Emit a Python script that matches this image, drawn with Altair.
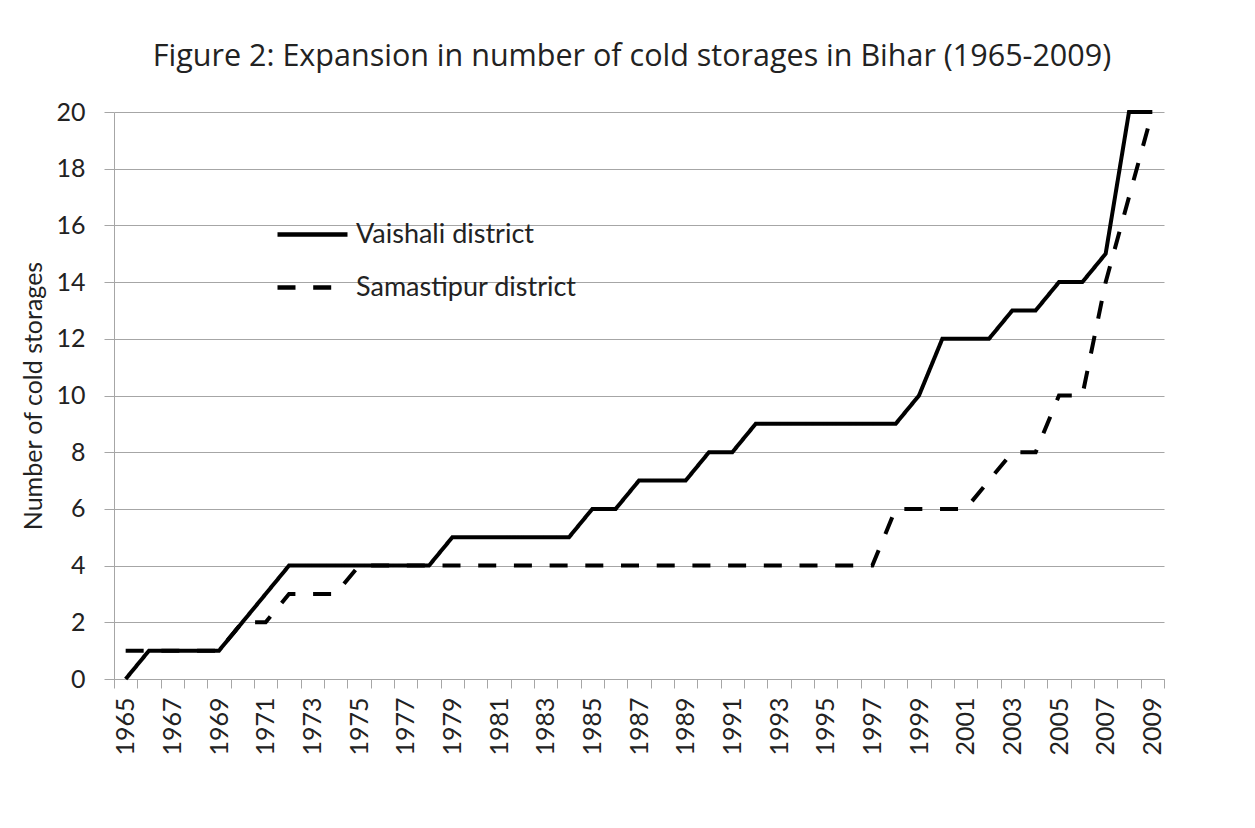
import altair as alt
import pandas as pd

years = list(range(1965, 2010))
vaishali = [0, 1, 1, 1, 1, 2, 3, 4, 4, 4, 4, 4, 4, 4, 5, 5, 5, 5, 5, 5,
            6, 6, 7, 7, 7, 8, 8, 9, 9, 9, 9, 9, 9, 9, 10, 12, 12, 12, 13, 13,
            14, 14, 15, 20, 20]
samastipur = [1, 1, 1, 1, 1, 2, 2, 3, 3, 3, 4, 4, 4, 4, 4, 4, 4, 4, 4, 4,
              4, 4, 4, 4, 4, 4, 4, 4, 4, 4, 4, 4, 4, 6, 6, 6, 6, 7, 8, 8,
              10, 10, 14, 17, 20]
series_names = ["Vaishali district", "Samastipur district"]
y_ticks = [0, 2, 4, 6, 8, 10, 12, 14, 16, 18, 20]

df = pd.DataFrame({
    "year": years + years,
    "value": vaishali + samastipur,
    "series": [series_names[0]] * len(years) + [series_names[1]] * len(years),
})

FONT = "Lato"
TXT = "#222222"
GRID = "#a6a6a6"

chart = alt.Chart(df).mark_line(color="black", strokeWidth=4).encode(
    x=alt.X(
        "year:O",
        bandPosition=0.5,
        scale=alt.Scale(type="band", paddingInner=0, paddingOuter=0),
        axis=alt.Axis(
            title=None,
            labelAngle=270,
            labelExpr="datum.value % 2 == 1 ? datum.label : ''",
            labelOverlap=False,
            tickBand="extent",
            tickSize=9,
            labelPadding=9,
            domainColor=GRID,
            tickColor=GRID,
            labelFont=FONT,
            labelFontSize=25,
            labelColor=TXT,
            grid=False,
        ),
    ),
    y=alt.Y(
        "value:Q",
        scale=alt.Scale(domain=[0, 20], nice=False),
        axis=alt.Axis(
            values=y_ticks,
            title="Number of cold storages",
            titleFont=FONT,
            titleFontSize=25,
            titleFontWeight="normal",
            titleColor=TXT,
            titleX=-68,
            titleY=283.5,
            labelFont=FONT,
            labelFontSize=25,
            labelColor=TXT,
            labelPadding=19,
            tickSize=10,
            tickColor=GRID,
            domainColor=GRID,
            gridColor=GRID,
            grid=True,
        ),
    ),
    strokeDash=alt.StrokeDash(
        "series:N",
        scale=alt.Scale(domain=series_names, range=[[1, 0], [18, 17.7]]),
        legend=alt.Legend(
            title=None,
            orient="none",
            legendX=185,
            legendY=109,
            symbolType="M-5,0H5",
            symbolSize=196,
            symbolStrokeWidth=4.5,
            symbolStrokeColor="black",
            labelFont=FONT,
            labelFontSize=27,
            labelColor=TXT,
            labelOffset=30,
            labelLimit=0,
            rowPadding=25,
        ),
    ),
).properties(
    width=1050,
    height=567,
    padding={"left": 106, "top": 104, "right": 60, "bottom": 100},
    autosize=alt.AutoSizeParams(type="none"),
    title=alt.TitleParams(
        "Figure 2: Expansion in number of cold storages in Bihar (1965-2009)",
        font="Open Sans",
        fontSize=30.5,
        fontWeight="normal",
        color=TXT,
        anchor="middle",
        offset=28,
        dx=-7,
    ),
).configure_view(strokeWidth=0)

chart.save("out.html", embed_options={"renderer": "svg", "actions": False})
